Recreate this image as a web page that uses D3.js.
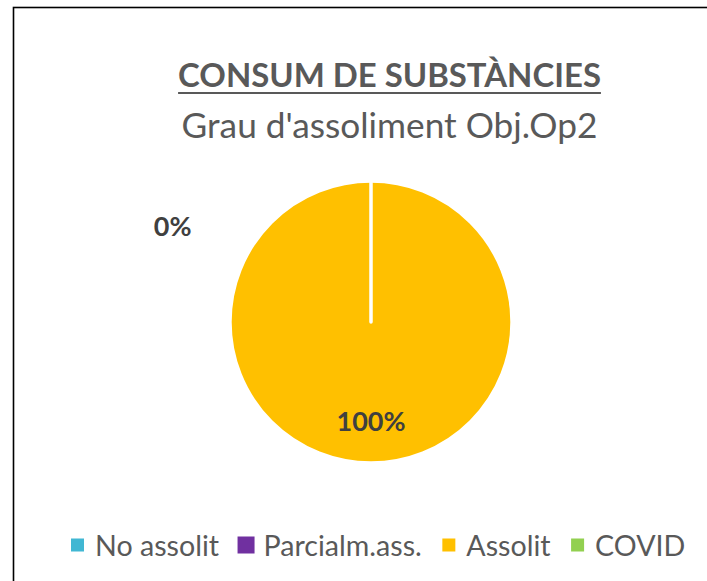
<!DOCTYPE html>
<html>
<head>
<meta charset="utf-8">
<script src="https://cdn.jsdelivr.net/npm/d3@7"></script>
<style>html,body{margin:0;padding:0;background:#fff;}</style>
</head>
<body>
<div id="chart"></div>
<script>
// Series data
const categories = ["No assolit", "Parcialm.ass.", "Assolit", "COVID"];
const values = [0, 0, 100, 0];
const colors = ["#41B7D3", "#7030A0", "#FFC000", "#92D050"];
// Slices that carry a percentage label
const labelled = ["No assolit", "Assolit"];
const titleText = "CONSUM DE SUBSTÀNCIES";
const subtitleText = "Grau d'assoliment Obj.Op2";

const W = 707, H = 581;
const FONT = "Lato, 'Open Sans', sans-serif";
const TEXT = "#595959", LABEL = "#404040";

const svg = d3.select("#chart").append("svg")
  .attr("width", W).attr("height", H);
svg.append("rect").attr("width", W).attr("height", H).attr("fill", "#fff");

// Chart frame (runs past the right and bottom edges)
svg.append("rect")
  .attr("x", 13.5).attr("y", 7.5)
  .attr("width", W + 40).attr("height", H + 40)
  .attr("fill", "none").attr("stroke", "#000").attr("stroke-width", 1.6);

// scale a text's font-size so it spans the given width
function fit(sel, target) {
  const w = sel.node().getComputedTextLength();
  const fs = parseFloat(sel.attr("font-size"));
  sel.attr("font-size", fs * target / w);
  return sel;
}

// Title + underline
const titleX = 389.5;
const title = svg.append("text")
  .attr("x", titleX).attr("y", 87)
  .attr("text-anchor", "middle")
  .attr("font-family", FONT).attr("font-weight", 700)
  .attr("font-size", 30).attr("fill", TEXT)
  .text(titleText);
fit(title, 423);
const tw = title.node().getComputedTextLength();
svg.append("line")
  .attr("x1", titleX - tw / 2).attr("x2", titleX + tw / 2)
  .attr("y1", 93).attr("y2", 93)
  .attr("stroke", TEXT).attr("stroke-width", 2);

const subtitle = svg.append("text")
  .attr("x", 389.5).attr("y", 138)
  .attr("text-anchor", "middle")
  .attr("font-family", FONT).attr("font-weight", 400)
  .attr("font-size", 26).attr("fill", TEXT)
  .text(subtitleText);
fit(subtitle, 416);

// Pie
const cx = 371, cy = 322, r = 141;
const total = d3.sum(values);
const pct = d3.format(".0%");
const data = categories.map((c, i) => ({ name: c, value: values[i], color: colors[i] }));
const pie = d3.pie().value(d => d.value).sort(null);
const arcs = pie(data);
const arc = d3.arc().innerRadius(0).outerRadius(r);

const g = svg.append("g").attr("transform", `translate(${cx},${cy})`);
g.selectAll("path.slice")
  .data(arcs)
  .join("path")
  .attr("class", "slice")
  .attr("d", arc)
  .attr("fill", d => d.data.color)
  .attr("stroke", "#fff")
  .attr("stroke-width", 3.5)
  .attr("stroke-linejoin", "round");

// Labels: inside slices at 0.7r, empty slices pushed outside
const outsideAngle = -64 * Math.PI / 180, outsideDist = 1.565;
const labelArcs = arcs.filter(d => labelled.includes(d.data.name));
labelArcs.forEach(d => {
  let a, dist;
  if (d.value > 0) {
    a = (d.startAngle + d.endAngle) / 2;
    dist = 0.7 * r;
  } else {
    a = outsideAngle;
    dist = outsideDist * r;
  }
  const t = g.append("text")
    .attr("x", Math.sin(a) * dist)
    .attr("y", -Math.cos(a) * dist)
    .attr("text-anchor", "middle")
    .attr("dominant-baseline", "central")
    .attr("font-family", FONT).attr("font-weight", 700)
    .attr("font-size", 24).attr("fill", LABEL)
    .text(pct(d.value / total));
});
g.selectAll("text").attr("font-size", function () {
  return 24;
});
// size labels so "100%" spans ~69px
{
  const probe = g.append("text").attr("font-family", FONT).attr("font-weight", 700)
    .attr("font-size", 24).text("100%");
  const fs = 24 * 69 / probe.node().getComputedTextLength();
  probe.remove();
  g.selectAll("text").attr("font-size", fs);
}

// Legend
const legendY = 545;
const legendFont = 20;
const legend = svg.append("g");
const items = legend.selectAll("g").data(data).join("g");
items.append("text")
  .attr("font-family", FONT).attr("font-size", legendFont)
  .attr("fill", TEXT).attr("dominant-baseline", "central")
  .text(d => d.name);
const rawTotal = d3.sum(items.nodes(), n => n.querySelector("text").getComputedTextLength());
const lfs = legendFont * 457 / rawTotal;
items.select("text").attr("font-size", lfs);
const keySize = { "Parcialm.ass.": 17 };
let x = 77.5;
items.each(function (d) {
  const s = keySize[d.name] || 13;
  const it = d3.select(this);
  it.insert("rect", "text")
    .attr("x", x - s / 2).attr("y", legendY - s / 2)
    .attr("width", s).attr("height", s)
    .attr("fill", d.color);
  const t = it.select("text").attr("x", x + 17.5).attr("y", legendY);
  x = x + 17.5 + t.node().getComputedTextLength() + 27;
});
</script>
</body>
</html>
